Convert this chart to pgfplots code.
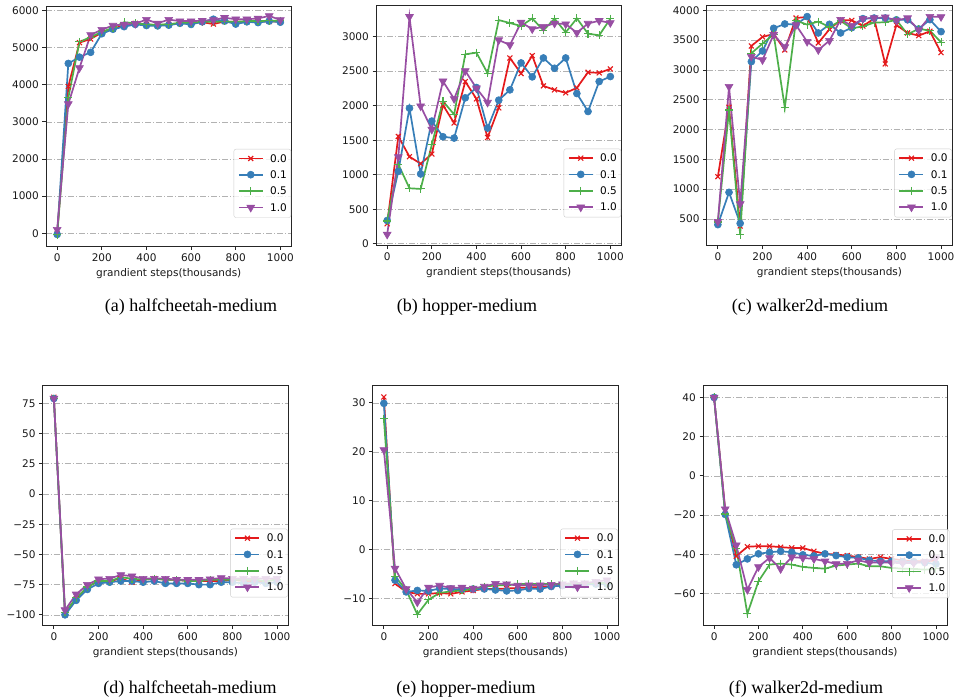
\documentclass[border=0pt]{standalone}
\usepackage{fontspec}
\setmainfont{DejaVu Sans}
\newfontfamily\capfont{Liberation Serif}
\usepackage{pgfplots}
\pgfplotsset{compat=1.18}
\usepackage{pgfplotstable}

\definecolor{setred}{HTML}{E41A1C}
\definecolor{setblue}{HTML}{377EB8}
\definecolor{setgreen}{HTML}{4DAF4A}
\definecolor{setpurple}{HTML}{984EA3}
\newcommand\tk{\fontsize{10.5bp}{12bp}\selectfont}
\newcommand\capsz{\capfont\fontsize{18bp}{20bp}\selectfont}

% x = thousands of gradient steps; r/b/g/p = 0.0 / 0.1 / 0.5 / 1.0
\pgfplotstableread{
x r b g p
0 -20 -30 -40 100
50 3950 4570 3650 3480
100 5130 4740 5150 4450
150 5230 4870 5280 5340
200 5400 5370 5420 5480
250 5500 5490 5530 5590
300 5600 5560 5680 5620
350 5650 5620 5650 5640
400 5620 5590 5620 5750
450 5600 5580 5610 5650
500 5620 5600 5630 5750
550 5650 5650 5660 5710
600 5660 5620 5670 5710
650 5680 5690 5690 5720
700 5630 5760 5690 5740
750 5700 5710 5700 5800
800 5690 5630 5690 5760
850 5700 5690 5710 5760
900 5700 5670 5710 5780
950 5700 5710 5720 5850
1000 5700 5680 5720 5740
}\halfcheetahA
\pgfplotstableread{
x r b g p
0 290 337 330 135
50 1555 1050 1150 1257
100 1261 1964 804 3288
150 1160 1011 794 1993
200 1300 1777 1435 1656
250 2008 1550 2065 2354
300 1748 1531 1873 2099
350 2350 2114 2744 2504
400 2099 2263 2768 2253
450 1540 1675 2470 2046
500 1969 2080 3240 2951
550 2691 2229 3197 2879
600 2465 2619 3154 3206
650 2725 2417 3264 3110
700 2287 2691 3091 3144
750 2229 2542 3260 3192
800 2186 2691 3062 3182
850 2258 2176 3264 3057
900 2484 1916 3043 3190
950 2475 2350 3019 3230
1000 2533 2422 3260 3200
}\hopperA
\pgfplotstableread{
x r b g p
0 1210 405 450 455
50 2373 947 2328 2720
100 383 427 237 752
150 3402 3139 3279 3223
200 3553 3318 3441 3167
250 3603 3698 3597 3592
300 3335 3771 2367 3385
350 3871 3760 3827 3754
400 3888 3894 3760 3474
450 3452 3620 3810 3335
500 3681 3765 3720 3491
550 3838 3620 3821 3843
600 3830 3709 3698 3743
650 3737 3860 3730 3860
700 3860 3870 3793 3870
750 3100 3870 3800 3883
800 3754 3840 3838 3830
850 3620 3840 3597 3870
900 3575 3687 3690 3670
950 3648 3843 3659 3894
1000 3290 3642 3463 3890
}\walkerA
\pgfplotstableread{
x r b g p
0 80 79 79 79
50 -100 -100 -98 -96
100 -87 -88 -86 -83
150 -77 -79 -77 -75
200 -72 -74 -72 -70.5
250 -72 -73 -72 -70
300 -70 -72 -69 -67
350 -73 -72 -70 -68
400 -71 -73 -71 -70
450 -70 -72 -70 -70
500 -71 -74 -71 -70
550 -71 -74 -71 -71
600 -72 -74 -72 -71
650 -72 -75 -72 -71
700 -72 -75 -71 -70.5
750 -72 -73 -71 -69.5
800 -71 -73 -71 -70
850 -72 -74 -71 -70
900 -72 -73 -71 -70
950 -72 -74 -72 -70
1000 -71 -73 -71 -70
}\halfcheetahB
\pgfplotstableread{
x r b g p
0 31.2 29.9 26.8 20.4
50 -6.9 -6.2 -5.4 -3.8
100 -8.6 -8.6 -8.2 -8.0
150 -9.0 -8.3 -13.2 -10.7
200 -9.0 -8.4 -10.2 -7.7
250 -8.8 -7.9 -8.8 -7.3
300 -9.0 -8.0 -8.5 -7.8
350 -8.6 -8.1 -8.3 -7.7
400 -8.3 -8.0 -8.0 -7.9
450 -8.0 -8.0 -7.5 -7.5
500 -8.0 -8.2 -7.3 -6.9
550 -7.9 -8.4 -7.2 -7.0
600 -7.8 -8.3 -7.0 -7.3
650 -7.7 -7.9 -7.0 -7.2
700 -7.6 -8.0 -7.0 -7.2
750 -7.5 -7.5 -7.0 -7.1
800 -7.3 -7.3 -7.0 -7.0
850 -7.2 -7.2 -6.9 -6.8
900 -7.1 -7.1 -6.9 -6.8
950 -7.0 -7.0 -6.8 -6.5
1000 -7.0 -7.0 -6.8 -6.2
}\hopperB
\pgfplotstableread{
x r b g p
0 40 40 40 40
50 -17.5 -19.7 -19.5 -17
100 -41 -45.4 -37 -35.4
150 -36.2 -42.4 -70.4 -58.1
200 -35.9 -39.8 -53.8 -46.5
250 -35.9 -39 -45.3 -41.9
300 -36.4 -38.5 -44.8 -47.5
350 -36.8 -39 -45.3 -41.5
400 -36.8 -40.3 -46.5 -41.9
450 -38.5 -40.9 -47 -42.4
500 -39.8 -39.8 -47.4 -43.6
550 -40.2 -40.7 -45.8 -45
600 -40.7 -41.5 -45.3 -44.8
650 -41.5 -41.9 -44.8 -43.1
700 -42.4 -43.1 -46.2 -44.4
750 -41.5 -43.6 -46.2 -44.1
800 -42.4 -43.6 -47 -44.4
850 -43.1 -43.9 -47.4 -44.5
900 -43.6 -43.9 -47.5 -44.5
950 -43.6 -44.3 -47.9 -44
1000 -43.2 -45 -47.5 -42
}\walkerB

\pgfplotsset{
  sub/.style={
    width=245.5bp, height=240bp, scale only axis,
    xmin=-50, xmax=1050,
    xtick={0,200,400,600,800,1000},
    xticklabels={0,200,400,600,800,1000},
    tick pos=left, tick align=outside, major tick length=3.5bp,
    every tick/.style={black!85, line width=0.8bp},
    axis line style={black!85, line width=0.8bp},
    ymajorgrids,
    grid style={gray!60, line width=0.6bp, dash pattern=on 6bp off 2bp on 1bp off 2bp},
    ticklabel style={font=\tk, inner sep=0pt, text=black!90},
    xticklabel style={yshift=-3.5bp},
    yticklabel style={xshift=-3.5bp},
    xlabel={grandient steps(thousands)},
    xlabel style={font=\tk, text=black!90, at={(axis description cs:0.5,0)}, anchor=base, yshift=-30bp},
    legend cell align=left,
    legend style={at={(0.998,0.118)}, anchor=south east, font=\tk,
      draw=black!20, fill=white, fill opacity=0.8, text opacity=1,
      rounded corners=2bp, inner xsep=4bp, inner ysep=5.5bp, row sep=8.6bp,
      nodes={inner sep=0pt, text height=7.6bp, text depth=0pt},
      /tikz/every odd column/.append style={column sep=6.5bp}},
    legend image code/.code={
      \draw[mark repeat=2, mark phase=2, #1, fill opacity=1]
        plot coordinates {(0bp,0bp) (12bp,0bp) (24bp,0bp)};},
  },
  rline/.style={setred, line width=1.7bp, mark=x, mark size=3.5bp,
    mark options={solid, line width=1.1bp}},
  bline/.style={setblue, line width=1.7bp, mark=*, mark size=3.5bp,
    mark options={solid, line width=0.6bp}},
  gline/.style={setgreen, line width=1.7bp, mark=+, mark size=4bp,
    mark options={solid, line width=1.1bp}},
  pline/.style={setpurple, line width=1.7bp, mark=triangle*, mark size=4.5bp,
    mark options={solid, rotate=180, line width=0.6bp}},
}

\newcommand\fourlines[1]{%
  \addplot[rline] table[x=x, y=r] {#1};
  \addplot[bline] table[x=x, y=b] {#1};
  \addplot[gline] table[x=x, y=g] {#1};
  \addplot[pline] table[x=x, y=p] {#1};
  \legend{0.0,0.1,0.5,1.0}}

\begin{document}
\begin{tikzpicture}
\useasboundingbox (0,0) rectangle (954bp,-700bp);

\begin{axis}[sub, at={(46bp,-6bp)}, anchor=north west,
  ymin=-342, ymax=6116, ytick={0,1000,2000,3000,4000,5000,6000},
  yticklabels={0,1000,2000,3000,4000,5000,6000}]
\fourlines{\halfcheetahA}
\end{axis}

\begin{axis}[sub, at={(376bp,-5.7bp)}, anchor=north west,
  ymin=-28, ymax=3448, ytick={0,500,1000,1500,2000,2500,3000},
  yticklabels={0,500,1000,1500,2000,2500,3000}]
\fourlines{\hopperA}
\end{axis}

\begin{axis}[sub, at={(706.7bp,-5.7bp)}, anchor=north west,
  ymin=52, ymax=4077, ytick={500,1000,1500,2000,2500,3000,3500,4000},
  yticklabels={500,1000,1500,2000,2500,3000,3500,4000}]
\fourlines{\walkerA}
\end{axis}

\begin{axis}[sub, at={(42.7bp,-385.7bp)}, anchor=north west,
  ymin=-109, ymax=89.6, ytick={-100,-75,-50,-25,0,25,50,75},
  yticklabels={−100,−75,−50,−25,0,25,50,75}]
\fourlines{\halfcheetahB}
\end{axis}

\begin{axis}[sub, at={(372.7bp,-385.7bp)}, anchor=north west,
  ymin=-15.5, ymax=33.5, ytick={-10,0,10,20,30},
  yticklabels={−10,0,10,20,30}]
\fourlines{\hopperB}
\end{axis}

\begin{axis}[sub, at={(703bp,-385.7bp)}, anchor=north west, width=244bp,
  ymin=-76.5, ymax=46, ytick={-60,-40,-20,0,20,40},
  yticklabels={−60,−40,−20,0,20,40},
  legend style={at={(1.01,0.115)}}]
\fourlines{\walkerB}
\end{axis}

\node[anchor=base, font=\capsz] at (191bp,-311bp) {(a) halfcheetah-medium};
\node[anchor=base, font=\capsz] at (467bp,-311bp) {(b) hopper-medium};
\node[anchor=base, font=\capsz] at (810bp,-311bp) {(c) walker2d-medium};
\node[anchor=base, font=\capsz] at (190bp,-693bp) {(d) halfcheetah-medium};
\node[anchor=base, font=\capsz] at (466bp,-693bp) {(e) hopper-medium};
\node[anchor=base, font=\capsz] at (806bp,-693bp) {(f) walker2d-medium};
\end{tikzpicture}
\end{document}
